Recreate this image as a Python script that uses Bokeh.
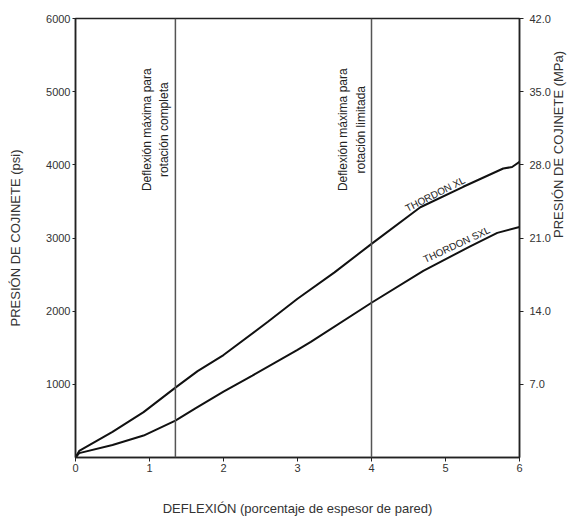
import math
from bokeh.plotting import figure
from bokeh.models import Range1d, LinearAxis, FixedTicker, Label, Span, NumeralTickFormatter
from bokeh.embed import file_html
from bokeh.resources import INLINE

# Data
deflection_xl = [0, 0.05, 0.5, 0.92, 1.35, 1.65, 2.0, 2.6, 3.0, 3.5, 4.0, 4.66, 5.24, 5.78, 5.9, 6.0]
pressure_xl = [0, 90, 350, 620, 955, 1180, 1400, 1855, 2170, 2530, 2920, 3420, 3700, 3950, 3970, 4040]
deflection_sxl = [0, 0.05, 0.5, 0.92, 1.35, 1.62, 2.0, 2.39, 3.0, 3.18, 4.0, 4.7, 5.34, 5.7, 6.0]
pressure_sxl = [0, 60, 170, 300, 505, 670, 900, 1120, 1470, 1580, 2115, 2550, 2890, 3070, 3150]
x_ticks = [0, 1, 2, 3, 4, 5, 6]
psi_ticks = [1000, 2000, 3000, 4000, 5000, 6000]
mpa_ticks = [7, 14, 21, 28, 35, 42]
limit_lines = [1.35, 4.0]
right_title = "PRESIÓN DE COJINETE  (MPa)"

FONT = "Liberation Sans"
INK = "#222222"

p = figure(width=576, height=518, x_range=Range1d(0, 6), y_range=Range1d(0, 6000),
           output_backend="svg", toolbar_location=None,
           min_border_left=75, min_border_right=57, min_border_top=18, min_border_bottom=59)
p.extra_y_ranges = {"mpa": Range1d(0, 42)}
p.xgrid.visible = False
p.ygrid.visible = False
p.background_fill_color = "white"
p.border_fill_color = "white"
p.outline_line_color = INK
p.outline_line_width = 1.5
p.outline_line_alpha = 1

for s in limit_lines:
    p.add_layout(Span(location=s, dimension="height", line_color="#555555", line_width=1.5))

p.line(deflection_xl, pressure_xl, line_color="#111111", line_width=2)
p.line(deflection_sxl, pressure_sxl, line_color="#111111", line_width=2)

def style_axis(ax):
    ax.axis_line_color = INK
    ax.axis_line_width = 1.5
    ax.major_tick_line_color = INK
    ax.major_tick_line_width = 1
    ax.minor_tick_line_color = None
    ax.major_tick_in = 0
    ax.major_tick_out = 4
    ax.major_label_text_font = FONT
    ax.major_label_text_font_size = "11px"
    ax.major_label_text_color = "#333333"
    ax.axis_label_text_font = FONT
    ax.axis_label_text_font_size = "13px"
    ax.axis_label_text_font_style = "normal"
    ax.axis_label_text_color = "#333333"

xa = p.xaxis[0]
xa.ticker = FixedTicker(ticks=x_ticks)
xa.axis_label = "DEFLEXIÓN (porcentaje de espesor de pared)"
style_axis(xa)
xa.major_label_standoff = 2
xa.axis_label_standoff = 26

ya = p.yaxis[0]
ya.ticker = FixedTicker(ticks=psi_ticks)
ya.axis_label = "PRESIÓN DE COJINETE (psi)"
style_axis(ya)
ya.major_tick_out = 3
ya.major_label_standoff = 2
ya.axis_label_standoff = 20

ra = LinearAxis(y_range_name="mpa", ticker=FixedTicker(ticks=mpa_ticks),
                formatter=NumeralTickFormatter(format="0.0"))
style_axis(ra)
ra.major_label_standoff = 6
p.add_layout(ra, "right")

# right-hand title (reads bottom-to-top like the left one), carried by a bare axis
rt = LinearAxis(y_range_name="mpa", ticker=FixedTicker(ticks=[21]),
                major_label_overrides={21: right_title})
style_axis(rt)
rt.axis_line_color = None
rt.major_tick_line_color = None
rt.major_tick_out = 0
rt.major_label_standoff = 5
rt.major_label_orientation = math.pi / 2
rt.major_label_text_font_size = "13px"
p.add_layout(rt, "right")

def vlabel(x, y, txt):
    p.add_layout(Label(x=x, y=y, text=txt, angle=math.pi / 2, text_align="center",
                       text_baseline="middle", text_font=FONT, text_font_size="12px",
                       text_color="#222222"))

vlabel(0.96, 4480, "Deflexión máxima para")
vlabel(1.20, 4480, "rotación completa")
vlabel(3.62, 4480, "Deflexión máxima para")
vlabel(3.86, 4480, "rotación limitada")

def clabel(x, y, txt, deg):
    p.add_layout(Label(x=x, y=y, text=txt, angle=math.radians(deg), text_align="center",
                       text_baseline="middle", text_font=FONT, text_font_size="10px",
                       text_color="#222222"))

clabel(4.86, 3600, "THORDON XL", 27)
clabel(5.15, 2910, "THORDON SXL", 25)

open("out.html", "w").write(file_html(p, INLINE))
